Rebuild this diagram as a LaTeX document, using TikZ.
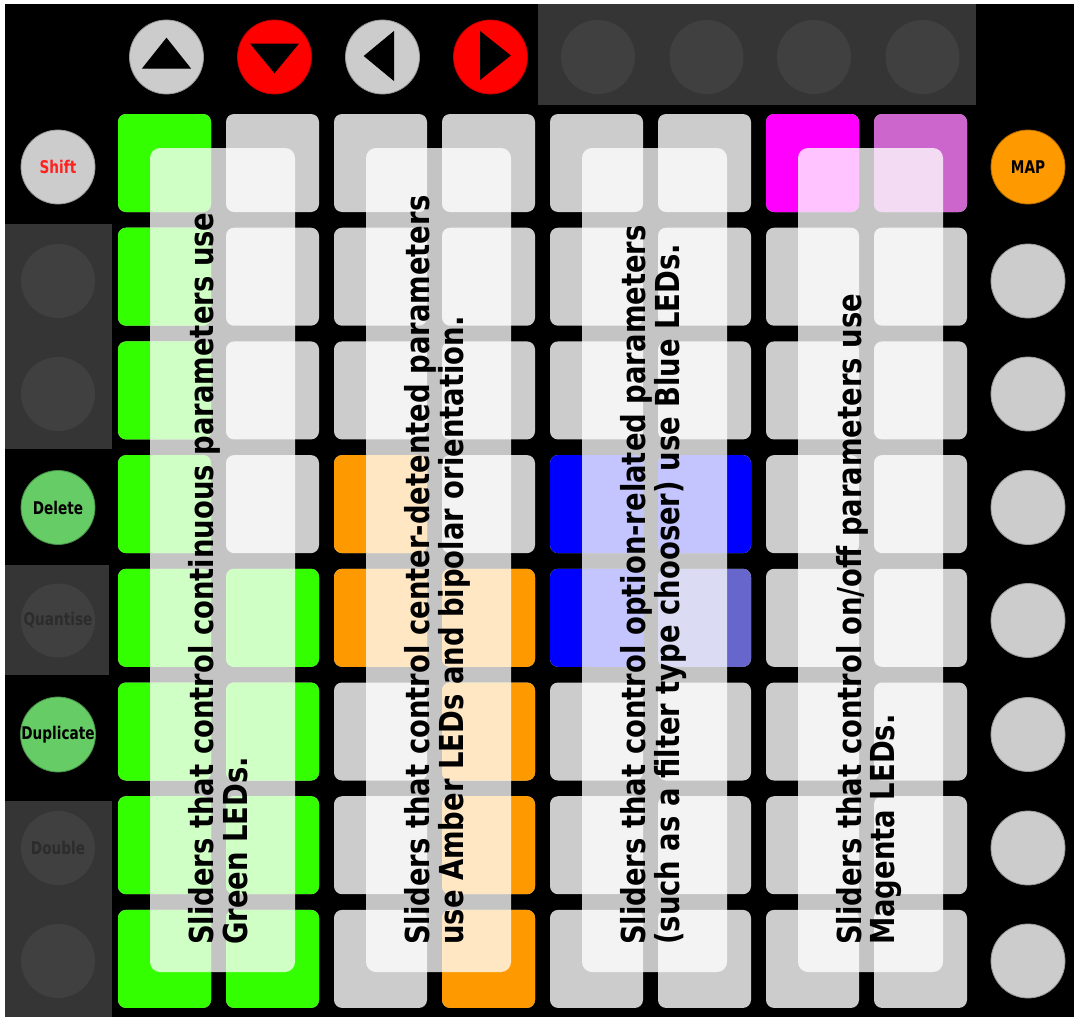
\documentclass[tikz,border=0pt]{standalone}
\usepackage{fontspec}
\usepackage{graphicx}
\newfontfamily\lblfont{DejaVu Sans}
\definecolor{padgrey}{HTML}{CCCCCC}
\definecolor{padgreen}{HTML}{33FF00}
\definecolor{padorange}{HTML}{FF9900}
\definecolor{padblue}{HTML}{0000FF}
\definecolor{padlav}{HTML}{6666CC}
\definecolor{padmag}{HTML}{FF00FF}
\definecolor{padorchid}{HTML}{CC66CC}
\definecolor{panelgrey}{HTML}{353535}
\definecolor{dimbtn}{HTML}{404040}
\definecolor{dimtxt}{HTML}{2C2C2C}
\definecolor{btngreen}{HTML}{66CC66}
\definecolor{btnred}{HTML}{FF0000}
\definecolor{shifttxt}{HTML}{FF2020}
\newcommand\drawpad[3]{\fill[#3,rounded corners=8pt] ({118+108*#1},{114+113.7*#2}) rectangle ++(93,98);}
\newcommand\btnlabel[2]{\textcolor{#1}{\scalebox{0.78}[1]{\lblfont\bfseries\fontsize{17.5}{17.5}\selectfont #2}}}
\newcommand\slidertext[2]{\scalebox{0.831}[1]{\lblfont\bfseries\fontsize{33}{31}\selectfont\begin{tabular}{@{}l@{}}#1\\#2\end{tabular}}}
\begin{document}
\begin{tikzpicture}[x=1pt,y=-1pt,
  btn/.style={circle, minimum size=74pt, inner sep=0pt, line width=0.8pt},
  dimbutton/.style={btn, fill=dimbtn},
  lbl/.style={inner sep=0pt, anchor=north west, rotate=90},
  tri/.style={draw=black, fill=black, line width=1pt, line join=miter}]
\useasboundingbox (0,0) rectangle (1074,1017);
\fill[white] (0,0) rectangle (1074,1017);
\fill[black] (5,4) rectangle (1074,1017);
% panels
\fill[panelgrey] (538,4) rectangle (976,105);
\fill[panelgrey] (5,224) rectangle (112,449);
\fill[panelgrey] (5,565) rectangle (109,675);
\fill[panelgrey] (5,801) rectangle (112,1017);
% top buttons
\node[btn, fill=padgrey, draw=padgrey!75!black] (up) at (166.5,57) {};
\node[btn, fill=btnred, draw=btnred!75!black] (down) at (274.5,57) {};
\node[btn, fill=padgrey, draw=padgrey!75!black] (left) at (382.5,57) {};
\node[btn, fill=btnred, draw=btnred!75!black] (right) at (490.5,57) {};
\draw[tri] (143,68) -- (190,68) -- (166.5,38.5) -- cycle;
\draw[tri] (251,44) -- (298,44) -- (274.5,72.5) -- cycle;
\draw[tri] (393.5,32) -- (393.5,80) -- (364.5,56) -- cycle;
\draw[tri] (480.5,32) -- (480.5,79) -- (510,55.5) -- cycle;
\node[dimbutton] (t5) at (598,57) {};
\node[dimbutton] (t6) at (706.5,57) {};
\node[dimbutton] (t7) at (814,57) {};
\node[dimbutton] (t8) at (922.5,57) {};
% left buttons
\node[btn, fill=padgrey, draw=padgrey!75!black] (shift) at (58,167) {\btnlabel{shifttxt}{Shift}};
\node[dimbutton] (l2) at (58,281) {};
\node[dimbutton] (l3) at (58,394) {};
\node[btn, fill=btngreen, draw=btngreen!70!black] (delete) at (58,507.5) {\btnlabel{black}{Delete}};
\node[dimbutton] (quantise) at (58,620.5) {\btnlabel{dimtxt}{Quantise}};
\node[btn, fill=btngreen, draw=btngreen!70!black] (duplicate) at (58,734.5) {\btnlabel{black}{Duplicate}};
\node[dimbutton] (double) at (58,848) {\btnlabel{dimtxt}{Double}};
\node[dimbutton] (l8) at (58,961) {};
% right buttons
\node[btn, fill=padorange, draw=padorange!70!black] (map) at (1028,167) {\btnlabel{black}{MAP}};
\foreach \i/\yy in {2/281,3/394,4/507.5,5/620.5,6/734.5,7/848,8/961}
  \node[btn, fill=padgrey, draw=padgrey!75!black] (r\i) at (1028,\yy) {};
% pads
\foreach \c in {0,...,7}
  \foreach \r in {0,...,7}
    {\drawpad{\c}{\r}{padgrey}}
\foreach \r in {0,...,7} {\drawpad{0}{\r}{padgreen}}
\foreach \r in {4,...,7} {\drawpad{1}{\r}{padgreen}}
\drawpad{2}{3}{padorange}
\drawpad{2}{4}{padorange}
\foreach \r in {4,...,7} {\drawpad{3}{\r}{padorange}}
\drawpad{4}{3}{padblue}
\drawpad{4}{4}{padblue}
\drawpad{5}{3}{padblue}
\drawpad{5}{4}{padlav}
\drawpad{6}{0}{padmag}
\drawpad{7}{0}{padorchid}
% translucent overlays
\foreach \k in {0,...,3}
  \fill[white, fill opacity=0.77, rounded corners=10pt] ({150+216*\k},148) rectangle ++(145,824);
% texts
\node[lbl] (txt1) at (188,945) {\slidertext{Sliders that control continuous parameters use}{Green LEDs.}};
\node[lbl] (txt2) at (404,945) {\slidertext{Sliders that control center-detented parameters}{use Amber LEDs and bipolar orientation.}};
\node[lbl] (txt3) at (620,945) {\slidertext{Sliders that control option-related parameters}{(such as a filter type chooser) use Blue LEDs.}};
\node[lbl] (txt4) at (836,945) {\slidertext{Sliders that control on/off parameters use}{Magenta LEDs.}};
\end{tikzpicture}
\end{document}
